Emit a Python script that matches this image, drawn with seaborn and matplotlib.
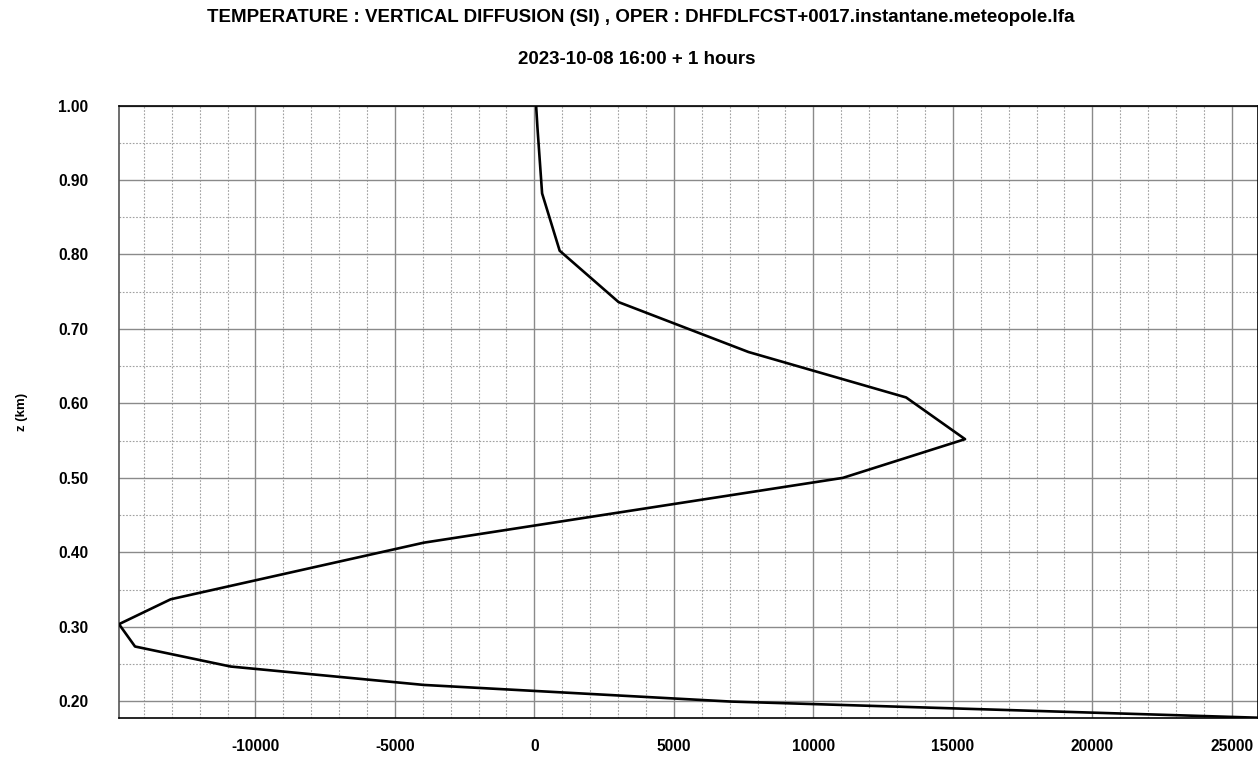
import numpy as np
import pandas as pd
import matplotlib
matplotlib.use("Agg")
import matplotlib.pyplot as plt
import seaborn as sns
from matplotlib.ticker import MultipleLocator, FormatStrFormatter

# Data
tendency = [61, 110, 276, 906, 3019, 7675, 13324, 15437, 11056, -3965,
            -13037, -14890, -14316, -10888, -3965, 7020, 25920]
height_km = [1.000, 0.970, 0.882, 0.805, 0.736, 0.669, 0.608, 0.552, 0.500,
             0.413, 0.337, 0.3036, 0.2736, 0.2467, 0.222, 0.1997, 0.178]
title_line1 = "TEMPERATURE : VERTICAL DIFFUSION (SI) , OPER : DHFDLFCST+0017.instantane.meteopole.lfa"
title_line2 = "2023-10-08 16:00 + 1 hours"
y_label = "z (km)"

sns.set_style("white")
plt.rcParams["font.family"] = ["Liberation Sans", "DejaVu Sans"]
plt.rcParams["font.weight"] = "bold"
plt.rcParams["axes.unicode_minus"] = False
plt.rcParams["text.color"] = "black"
plt.rcParams["xtick.color"] = "black"
plt.rcParams["ytick.color"] = "black"
plt.rcParams["axes.labelcolor"] = "black"

df = pd.DataFrame({"x": tendency, "z": height_km})

fig = plt.figure(figsize=(12.58, 7.57), dpi=100)
ax = fig.add_axes([119 / 1258, 1 - 717.7 / 757, (1257.5 - 119) / 1258, (717.7 - 105.5) / 757])

sns.lineplot(data=df, x="x", y="z", sort=False, estimator=None, color="black",
             linewidth=1.9, ax=ax, zorder=5)

ax.set_xlim(min(tendency), max(tendency))
ax.set_ylim(min(height_km), max(height_km))

ax.xaxis.set_major_locator(MultipleLocator(5000))
ax.xaxis.set_minor_locator(MultipleLocator(1000))
ax.yaxis.set_major_locator(MultipleLocator(0.1))
ax.yaxis.set_minor_locator(MultipleLocator(0.05))
ax.yaxis.set_major_formatter(FormatStrFormatter("%.2f"))

ax.grid(which="major", color="#8a8a8a", linestyle="-", linewidth=1.0)
ax.grid(which="minor", color="#a0a0a0", linestyle=(0, (1.5, 1.5)), linewidth=0.8)
ax.set_axisbelow(True)

ax.tick_params(axis="both", which="both", length=0)
ax.tick_params(axis="y", pad=22, labelsize=11.2)
ax.tick_params(axis="x", pad=15, labelsize=11.2)
for lab in ax.get_xticklabels() + ax.get_yticklabels():
    lab.set_fontweight("bold")

for side in ["top", "bottom", "right"]:
    ax.spines[side].set_color("black")
    ax.spines[side].set_linewidth(1.2)
ax.spines["left"].set_color("#555555")
ax.spines["left"].set_linewidth(1.2)

ax.set_xlabel("")
ax.set_ylabel(y_label, fontsize=9.5, fontweight="bold")
ax.yaxis.set_label_coords(-0.08, 0.5)

fig.text(0.509, 1 - 17 / 757, title_line1, ha="center", va="center",
         fontsize=13.5, fontweight="bold")
fig.text(0.506, 1 - 60 / 757, title_line2, ha="center", va="center",
         fontsize=13.5, fontweight="bold")

fig.savefig("out.png", dpi=100)
